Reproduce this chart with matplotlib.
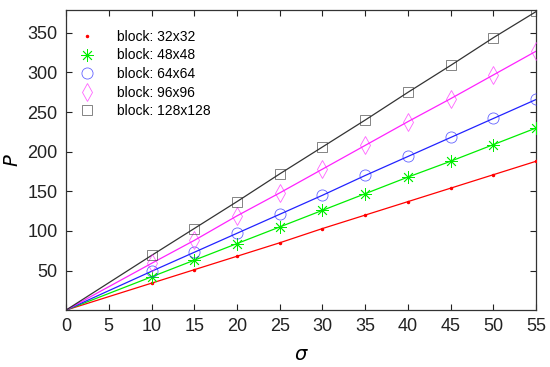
import matplotlib
matplotlib.use("Agg")
import matplotlib.pyplot as plt

sigma = [10, 15, 20, 25, 30, 35, 40, 45, 50, 55]
p_32 = [34, 51, 68, 85, 103, 120, 137, 154, 171, 188]
p_48 = [42, 63, 84, 105, 126, 147, 168, 188, 209, 230]
p_64 = [49, 73, 97, 121, 145, 170, 194, 218, 242, 266]
p_96 = [59, 88, 119, 148, 178, 208, 238, 267, 297, 327]
p_128 = [69, 103, 137, 172, 206, 240, 275, 309, 344, 377]
labels = ["block: 32x32", "block: 48x48", "block: 64x64", "block: 96x96", "block: 128x128"]
xticks = [0, 5, 10, 15, 20, 25, 30, 35, 40, 45, 50, 55]
yticks = [50, 100, 150, 200, 250, 300, 350]

plt.rcParams['font.family'] = ['Liberation Sans', 'DejaVu Sans']

fig = plt.figure(figsize=(5.5, 3.67), dpi=100)
ax = fig.add_axes([0.12, 0.155, 0.855, 0.818])

series = [p_32, p_48, p_64, p_96, p_128]
colors = ["#ff0000", "#00ee00", "#2222ff", "#ff22ff", "#333333"]
markers = [".", (8, 2, 0), "o", "d", "s"]
msizes = [3, 9, 8, 9, 7]

for vals, c, m, ms, lab in zip(series, colors, markers, msizes, labels):
    ax.plot([0] + sigma, [0] + vals, color=c, lw=0.9, zorder=2)
    if m == ".":
        ax.plot(sigma, vals, ls="none", marker=m, color=c, ms=ms, zorder=3, label=lab)
    else:
        ax.plot(sigma, vals, ls="none", marker=m, mfc="none", mec=c, ms=ms,
                mew=0.6, alpha=0.7 if c != "#00ee00" else 1.0, zorder=3, label=lab)

ax.set_xlim(0, 55)
ax.set_ylim(0, 379)
ax.set_xticks(xticks)
ax.set_yticks(yticks)
ax.tick_params(direction="in", top=True, right=True, labelsize=13, colors="#222222",
               length=4, width=0.8, pad=6)
for s in ax.spines.values():
    s.set_color("#333333")
    s.set_linewidth(0.9)

ax.set_xlabel(r"$\sigma$", fontsize=14, labelpad=8)
ax.set_ylabel(r"$P$", fontsize=14, labelpad=4)

ax.legend(loc="upper left", bbox_to_anchor=(-0.006, 0.98), frameon=False,
          fontsize=10, handlelength=1.5, handletextpad=1.4, labelspacing=0.33,
          borderaxespad=0.5, borderpad=0.5)

fig.savefig("out.png", dpi=100)
